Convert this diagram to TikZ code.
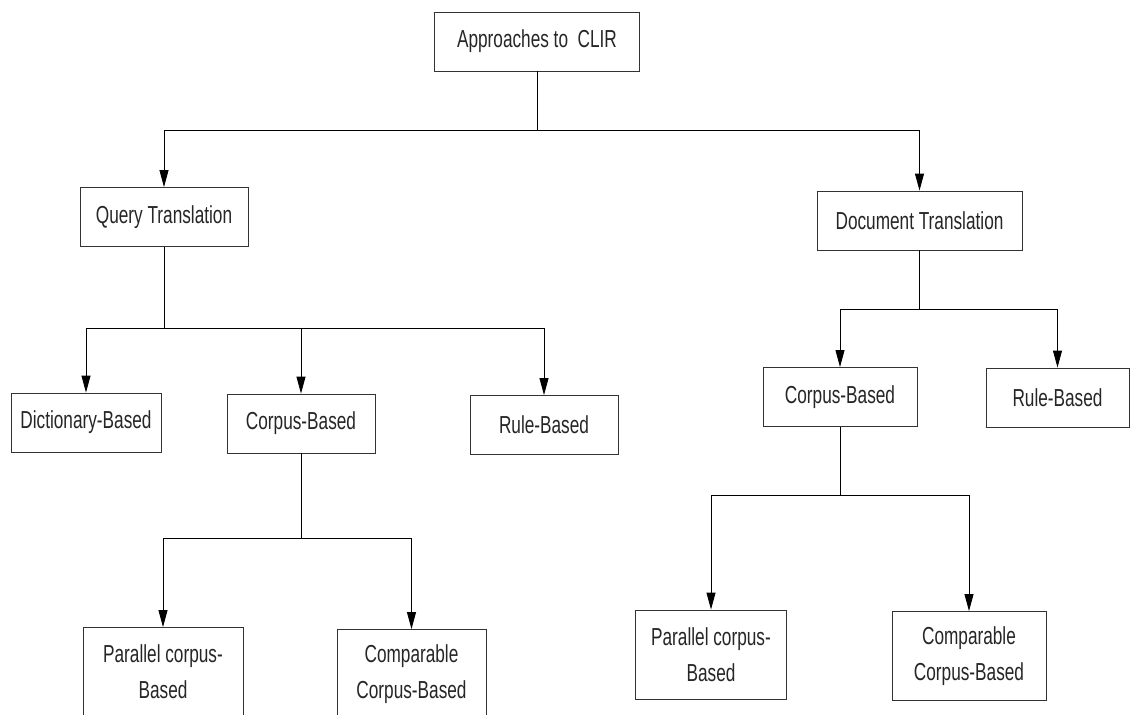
\documentclass[tikz,border=0pt]{standalone}
\usepackage{fontspec}
\setmainfont{Liberation Sans}[FakeStretch=0.7]
\usetikzlibrary{arrows.meta,positioning}

\begin{document}
\begin{tikzpicture}[->,>={Triangle[length=0.34cm,width=0.18cm]},line width=0.5pt,
 on grid,font=\fontsize{14}{20.5}\selectfont]
 \tikzstyle{block}=[rectangle,draw=black!80,text=black!85,minimum width=3cm,
   minimum height=1.18cm,align=center,inner sep=2pt]
 \tikzstyle{tall}=[block,minimum height=1.78cm]
 \useasboundingbox (0,0) rectangle (22.6,-14.28);

 \node[block,minimum width=4.1cm]  (clir)    at (10.74,-0.83) {Approaches to\ \ CLIR};
 \node[block,minimum width=3.36cm] (query)   [below left=3.51cm and 7.46cm of clir] {Query Translation};
 \node[block,minimum width=4.1cm]  (doc)     [below right=3.58cm and 7.65cm of clir] {Document Translation};

 \node[block]                      (dict)    [below left=4.11cm and 1.56cm of query] {Dictionary-Based};
 \node[block,minimum width=2.96cm] (qcorpus) [below right=4.13cm and 2.74cm of query] {Corpus-Based};
 \node[block,minimum width=2.96cm] (qrule)   [below right=4.16cm and 7.6cm of query] {Rule-Based};

 \node[block,minimum width=3.08cm] (dcorpus) [below left=3.53cm and 1.59cm of doc] {Corpus-Based};
 \node[block,minimum width=2.86cm] (drule)   [below right=3.54cm and 2.76cm of doc] {Rule-Based};

 \node[tall,minimum width=3.2cm]   (qpar)    [below left=4.97cm and 2.76cm of qcorpus] {Parallel corpus-\\Based};
 \node[tall,minimum width=2.98cm]  (qcomp)   [below right=5.01cm and 2.21cm of qcorpus] {Comparable\\Corpus-Based};
 \node[tall,minimum width=3.02cm]  (dpar)    [below left=5.15cm and 2.58cm of dcorpus] {Parallel corpus-\\Based};
 \node[tall,minimum width=3.08cm]  (dcomp)   [below right=5.18cm and 2.58cm of dcorpus] {Comparable\\Corpus-Based};

 % level 1
 \draw[-] (clir.south) -- ++(0,-1.18) coordinate (j1);
 \draw (j1) -| (query.north);
 \draw (j1) -| (doc.north);
 % query translation
 \draw[-] (query.south) -- ++(0,-1.62) coordinate (j2);
 \draw (j2) -| (dict.north);
 \draw (j2) -| (qcorpus.north);
 \draw (j2) -| (qrule.north);
 \draw[-] (qcorpus.south) -- ++(0,-1.7) coordinate (j3);
 \draw (j3) -| (qpar.north);
 \draw (j3) -| (qcomp.north);
 % document translation
 \draw[-] (doc.south) -- ++(0,-1.18) coordinate (j4);
 \draw (j4) -| (dcorpus.north);
 \draw (j4) -| (drule.north);
 \draw[-] (dcorpus.south) -- ++(0,-1.36) coordinate (j5);
 \draw (j5) -| (dpar.north);
 \draw (j5) -| (dcomp.north);
\end{tikzpicture}
\end{document}
